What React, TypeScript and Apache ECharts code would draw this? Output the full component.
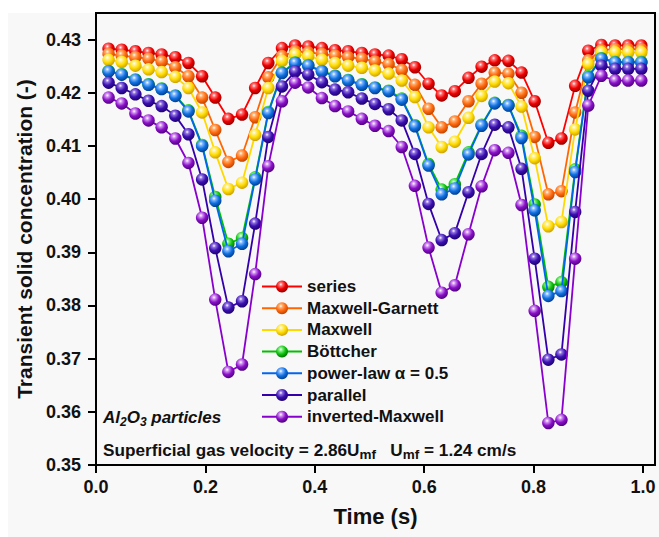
import React, { useEffect, useRef } from "react";
import * as echarts from "echarts";

const times = [
  0.023, 0.047, 0.072, 0.096, 0.12, 0.145, 0.169, 0.194, 0.218, 0.242, 0.267,
  0.291, 0.315, 0.34, 0.364, 0.388, 0.413, 0.437, 0.461, 0.486, 0.51, 0.535,
  0.559, 0.583, 0.608, 0.632, 0.656, 0.681, 0.705, 0.729, 0.754, 0.778, 0.802,
  0.827, 0.851, 0.876, 0.9, 0.924, 0.949, 0.973, 0.997,
];

const seriesModel = [
  0.4283, 0.4281, 0.4278, 0.4275, 0.4272, 0.4267, 0.4256, 0.4231, 0.4191, 0.4151, 0.4159,
  0.4209, 0.4256, 0.4284, 0.4289, 0.4287, 0.4284, 0.428, 0.4278, 0.4275, 0.4272, 0.427,
  0.4263, 0.4248, 0.4217, 0.4195, 0.4203, 0.4228, 0.4249, 0.4261, 0.426, 0.4238, 0.4184,
  0.4106, 0.4114, 0.4213, 0.4279, 0.429, 0.4289, 0.4289, 0.4289,
];
const maxwellGarnett = [
  0.4273, 0.427, 0.4267, 0.4264, 0.4259, 0.4248, 0.4231, 0.4191, 0.413, 0.407, 0.4082,
  0.4154, 0.4229, 0.4269, 0.4278, 0.4276, 0.4273, 0.427, 0.4267, 0.4264, 0.4259, 0.4254,
  0.4243, 0.4215, 0.417, 0.4135, 0.4146, 0.4184, 0.4217, 0.4238, 0.4236, 0.42, 0.4117,
  0.4009, 0.4015, 0.4163, 0.4261, 0.428, 0.4282, 0.4282, 0.4282,
];
const maxwell = [
  0.4262, 0.4258, 0.4251, 0.4244, 0.4239, 0.423, 0.4209, 0.4163, 0.4088, 0.4019, 0.4031,
  0.4121, 0.4209, 0.426, 0.4272, 0.4269, 0.4262, 0.4256, 0.4251, 0.4247, 0.4242, 0.4236,
  0.4223, 0.4192, 0.4135, 0.4098, 0.4108, 0.4153, 0.4194, 0.4221, 0.4218, 0.4174, 0.4077,
  0.3949, 0.3957, 0.4131, 0.4254, 0.4276, 0.4276, 0.4276, 0.4276,
];
const bottcher = [
  0.4241, 0.4235, 0.4225, 0.4216, 0.4208, 0.4195, 0.4167, 0.4102, 0.4004, 0.3916, 0.3927,
  0.4041, 0.4164, 0.4238, 0.4257, 0.4252, 0.4241, 0.4232, 0.4224, 0.4216, 0.421, 0.4204,
  0.4189, 0.4139, 0.4066, 0.4018, 0.4028, 0.4088, 0.414, 0.4181, 0.4177, 0.4119, 0.399,
  0.3835, 0.3844, 0.4056, 0.4231, 0.4265, 0.4258, 0.4258, 0.4258,
];
const powerLaw = [
  0.424, 0.4234, 0.4224, 0.4215, 0.4207, 0.4194, 0.4165, 0.41, 0.3997, 0.3902, 0.3916,
  0.4037, 0.4162, 0.4237, 0.4256, 0.4251, 0.424, 0.4231, 0.4223, 0.4215, 0.4209, 0.4203,
  0.4187, 0.4137, 0.4063, 0.4009, 0.402, 0.4084, 0.4138, 0.418, 0.4176, 0.4115, 0.3979,
  0.3818, 0.3827, 0.4051, 0.4229, 0.4264, 0.4257, 0.4257, 0.4257,
];
const parallel = [
  0.4219, 0.4209, 0.4197, 0.4185, 0.4175, 0.4157, 0.4122, 0.4037, 0.3908, 0.3796, 0.3808,
  0.3954, 0.4117, 0.4212, 0.424, 0.4234, 0.422, 0.4206, 0.4201, 0.4189, 0.4179, 0.4169,
  0.4148, 0.4085, 0.3991, 0.3923, 0.3936, 0.4013, 0.4085, 0.414, 0.4135, 0.4057, 0.3888,
  0.3698, 0.3708, 0.3976, 0.4204, 0.4251, 0.4245, 0.4245, 0.4245,
];
const invertedMaxwell = [
  0.4191, 0.418, 0.4161, 0.4148, 0.4135, 0.4114, 0.4068, 0.3965, 0.3811, 0.3675, 0.3689,
  0.3859, 0.4062, 0.4184, 0.4219, 0.421, 0.419, 0.4175, 0.4165, 0.4151, 0.4138, 0.4128,
  0.4098, 0.4025, 0.3909, 0.3824, 0.3838, 0.3934, 0.4024, 0.4092, 0.4087, 0.3989, 0.379,
  0.3579, 0.3585, 0.3888, 0.4176, 0.4232, 0.4223, 0.4223, 0.4223,
];

const seriesNames = [
  "series",
  "Maxwell-Garnett",
  "Maxwell",
  "Böttcher",
  "power-law α = 0.5",
  "parallel",
  "inverted-Maxwell",
];
const seriesValues = [seriesModel, maxwellGarnett, maxwell, bottcher, powerLaw, parallel, invertedMaxwell];

const xTicks = [0, 0.2, 0.4, 0.6, 0.8, 1.0];
const yTicks = [0.35, 0.36, 0.37, 0.38, 0.39, 0.4, 0.41, 0.42, 0.43];

const palette = [
  { line: "#ff0000", light: "#ff7070", base: "#ee0000", dark: "#8a0000" },
  { line: "#ff6600", light: "#ffb070", base: "#ff6a10", dark: "#b84000" },
  { line: "#ffd800", light: "#fff090", base: "#ffdc00", dark: "#c89a00" },
  { line: "#00c000", light: "#80f080", base: "#10c010", dark: "#006a00" },
  { line: "#0066ee", light: "#80b8ff", base: "#1070e0", dark: "#003a8a" },
  { line: "#3300aa", light: "#9070e0", base: "#3a10b0", dark: "#1c0068" },
  { line: "#8800cc", light: "#d090f0", base: "#8a10c8", dark: "#4a0078" },
];

const FONT = '"Liberation Sans", Arial, Helvetica, sans-serif';

function ball(c: { light: string; base: string; dark: string }) {
  return new echarts.graphic.RadialGradient(0.4, 0.32, 0.72, [
    { offset: 0, color: "#ffffff" },
    { offset: 0.2, color: c.light },
    { offset: 0.55, color: c.base },
    { offset: 1, color: c.dark },
  ]);
}

export default function App() {
  const ref = useRef<HTMLDivElement>(null);

  useEffect(() => {
    if (!ref.current) return;
    const chart = echarts.init(ref.current, null, { renderer: "svg" });

    const series = seriesNames.map((name, k) => ({
      name,
      type: "line",
      data: times.map((t, i) => [t, seriesValues[k][i]]),
      symbol: "circle",
      symbolSize: 12.5,
      showSymbol: true,
      lineStyle: { color: palette[k].line, width: 1.8 },
      itemStyle: { color: ball(palette[k]), borderWidth: 0 },
      emphasis: { disabled: true },
      z: 2 + k * 0.01,
    }));

    chart.setOption({
      animation: false,
      backgroundColor: "#ffffff",
      grid: {
        left: 96,
        right: 4,
        top: 13,
        bottom: 72,
        show: true,
        borderColor: "#000",
        borderWidth: 2,
        backgroundColor: "#f8f8f8",
      },
      xAxis: {
        type: "value",
        min: 0,
        max: 1.022,
        name: "Time (s)",
        nameLocation: "middle",
        nameGap: 40,
        nameTextStyle: { fontFamily: FONT, fontSize: 22, fontWeight: "bold", color: "#111" },
        axisLine: { show: true, lineStyle: { color: "#000", width: 2 } },
        axisTick: { show: true, inside: false, length: 8, customValues: xTicks, lineStyle: { color: "#000", width: 2 } },
        axisLabel: {
          customValues: xTicks,
          formatter: (v: number) => v.toFixed(1),
          margin: 13,
          fontFamily: FONT,
          fontSize: 18,
          fontWeight: "bold",
          color: "#111",
        },
        splitLine: { show: false },
      },
      yAxis: {
        type: "value",
        min: 0.35,
        max: 0.435,
        name: "Transient solid concentration (-)",
        nameLocation: "middle",
        nameGap: 60,
        nameTextStyle: { fontFamily: FONT, fontSize: 21, fontWeight: "bold", color: "#111" },
        axisLine: { show: true, lineStyle: { color: "#000", width: 2 } },
        axisTick: { show: true, inside: false, length: 8, customValues: yTicks, lineStyle: { color: "#000", width: 2 } },
        axisLabel: {
          customValues: yTicks,
          formatter: (v: number) => v.toFixed(2),
          margin: 15,
          fontFamily: FONT,
          fontSize: 18,
          fontWeight: "bold",
          color: "#111",
        },
        splitLine: { show: false },
      },
      legend: {
        orient: "vertical",
        left: 261,
        top: 278,
        padding: 0,
        itemWidth: 40,
        itemHeight: 15,
        itemGap: 4.7,
        selectedMode: false,
        textStyle: { fontFamily: FONT, fontSize: 17, fontWeight: "bold", color: "#111", lineHeight: 17 },
        data: seriesNames,
      },
      graphic: [
        {
          type: "rect",
          z: -10,
          silent: true,
          shape: { x: 8, y: 13, width: 651, height: 524 },
          style: { fill: "#f8f8f8" },
        },
        {
          type: "text",
          z: 100,
          x: 103,
          y: 417,
          style: {
            text: "Al{sub|2}O{sub|3} particles",
            fontFamily: FONT,
            fontSize: 17,
            fontWeight: "bold",
            fontStyle: "italic",
            fill: "#111",
            verticalAlign: "middle",
            rich: {
              sub: {
                fontFamily: FONT,
                fontSize: 12,
                fontWeight: "bold",
                fontStyle: "italic",
                fill: "#111",
                padding: [9, 0, 0, 0],
              },
            },
          },
        },
        {
          type: "text",
          z: 100,
          x: 103,
          y: 450,
          style: {
            text: "Superficial gas velocity = 2.86U{sub|mf}   U{sub|mf} = 1.24 cm/s",
            fontFamily: FONT,
            fontSize: 17.2,
            fontWeight: "bold",
            fill: "#111",
            verticalAlign: "middle",
            rich: {
              sub: {
                fontFamily: FONT,
                fontSize: 13.5,
                fontWeight: "bold",
                fill: "#111",
                padding: [9, 0, 0, 0],
              },
            },
          },
        },
      ],
      series,
    });

    return () => chart.dispose();
  }, []);

  return (
    <div style={{ position: "absolute", left: 0, top: 0, width: 659, height: 537, background: "#fff" }}>
      <div ref={ref} style={{ width: 659, height: 537 }} />
    </div>
  );
}
